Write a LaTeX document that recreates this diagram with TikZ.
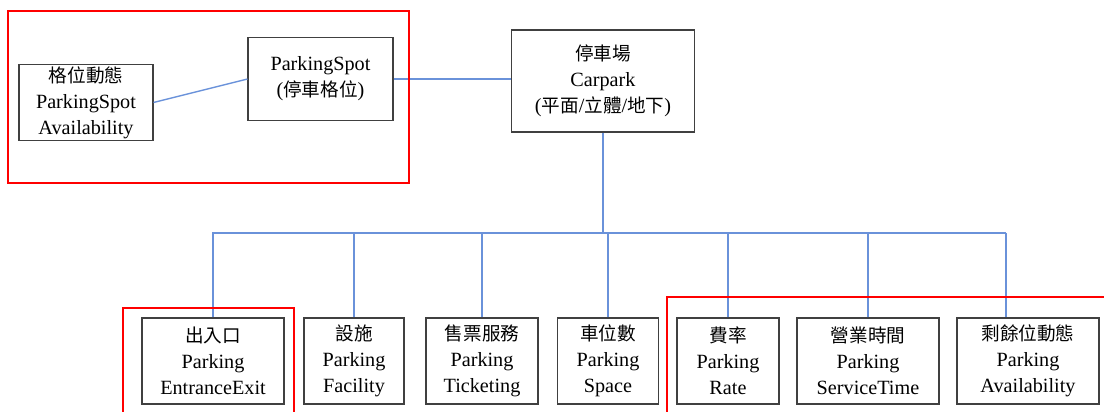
\documentclass[tikz,border=0pt]{standalone}
\usepackage{fontspec}
\setmainfont{Liberation Serif}
\newfontfamily\cjk[Scale=0.92]{Noto Sans CJK TC}
\usepackage{tikz}
\definecolor{linkblue}{HTML}{6A92DA}
\definecolor{boxgray}{HTML}{404040}

\begin{document}
\begin{tikzpicture}[
  box/.style={draw=boxgray, line width=0.6pt, align=center, inner sep=1pt,
    font=\fontsize{11.5}{14.8}\selectfont},
  leaf/.style={box, minimum height=1.72cm},
  link/.style={color=linkblue, line width=0.8pt},
  group/.style={color=red, line width=1.1pt}]
\useasboundingbox (0,0) rectangle (22.08,8.24);

\node[box, minimum width=2.68cm, minimum height=1.5cm] (spotavail) at (1.72,6.19) {{\cjk 格位動態}\\ParkingSpot\\Availability};
\node[box, minimum width=2.9cm, minimum height=1.66cm] (spot) at (6.41,6.66) {ParkingSpot\\({\cjk 停車格位})};
\node[box, minimum width=3.66cm, minimum height=2.04cm] (carpark) at (12.06,6.62) {{\cjk 停車場}\\Carpark\\({\cjk 平面}/{\cjk 立體}/{\cjk 地下})};

\node[leaf, minimum width=2.84cm] (entrance) at (4.26,1.02) {{\cjk 出入口}\\Parking\\EntranceExit};
\node[leaf, minimum width=2.0cm] (facility) at (7.08,1.02) {{\cjk 設施}\\Parking\\Facility};
\node[leaf, minimum width=2.24cm] (ticketing) at (9.64,1.02) {{\cjk 售票服務}\\Parking\\Ticketing};
\node[leaf, minimum width=2.02cm] (space) at (12.16,1.02) {{\cjk 車位數}\\Parking\\Space};
\node[leaf, minimum width=2.04cm] (rate) at (14.56,1.02) {{\cjk 費率}\\Parking\\Rate};
\node[leaf, minimum width=2.84cm] (servicetime) at (17.36,1.02) {{\cjk 營業時間}\\Parking\\ServiceTime};
\node[leaf, minimum width=2.84cm] (availability) at (20.56,1.02) {{\cjk 剩餘位動態}\\Parking\\Availability};

\coordinate (bus) at (12.06,3.58);
\coordinate (busend) at (20.12,3.58);

\draw[link] (spotavail.east) -- (spot.west);
\draw[link] (spot.east) -- (spot.east -| carpark.west);
\draw[link] (carpark.south) -- (bus);
\draw[link] (entrance.north) |- (busend);
\draw[link] (busend) -- (busend |- availability.north);
\foreach \n in {facility,ticketing,space,rate,servicetime}
  \draw[link] (\n.north) -- (\n.north |- bus);

\draw[group] (0.16,4.58) rectangle (8.18,8.02);
\draw[group] (2.46,-0.2) |- (5.88,2.08) -- (5.88,-0.2);
\draw[group] (13.34,-0.2) |- (22.3,2.3);
\end{tikzpicture}
\end{document}
